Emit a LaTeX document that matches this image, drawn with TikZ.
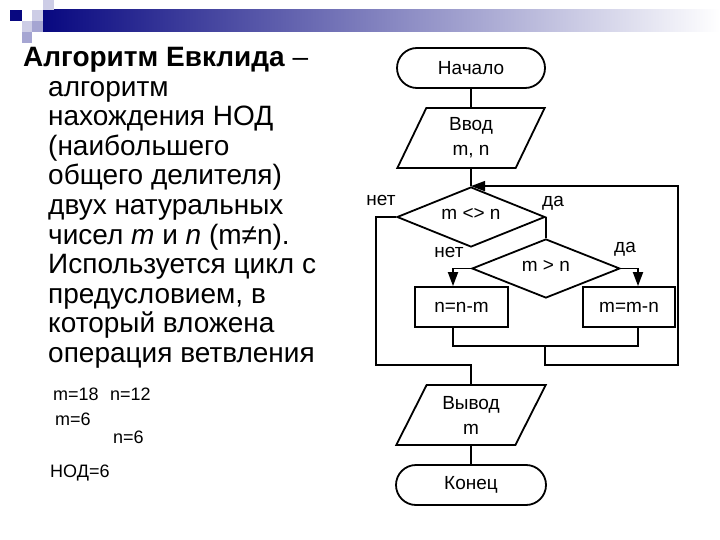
\documentclass[tikz,border=0pt]{standalone}
\usepackage{fontspec}
\setmainfont{Liberation Sans}
\usetikzlibrary{shapes.geometric,arrows.meta}

\definecolor{hdrblue}{RGB}{8,8,128}
\definecolor{lavlight}{RGB}{205,205,230}
\definecolor{lavmid}{RGB}{165,165,210}

\tikzset{
  line/.style={line width=1.8pt},
  arr/.style={-{Triangle[length=14pt,width=10pt]}},
  chart/.style={font=\fontsize{19}{25}\selectfont},
  term/.style={chart, draw, line width=1.8pt, rounded corners=20pt, minimum height=40pt},
  io/.style={chart, draw, line width=1.8pt, trapezium, trapezium stretches=true,
    minimum height=60pt, align=center, inner sep=0pt},
  cond/.style={chart, draw, line width=1.8pt, diamond, inner sep=0pt},
  proc/.style={chart, draw, line width=1.8pt, minimum width=93pt, minimum height=40pt},
  lbl/.style={chart},
  body/.style={font=\fontsize{28}{29.5}\selectfont, anchor=base west, inner sep=0pt},
  calc/.style={font=\fontsize{18}{20}\selectfont, anchor=base west, inner sep=0pt}
}

\begin{document}
\begin{tikzpicture}[x=1pt,y=-1pt]
    \useasboundingbox (0,0) rectangle (720,540);

    % header strip
    \shade[left color=hdrblue, right color=white] (43,10) rectangle (720,32);
    \fill[hdrblue] (10,10) rectangle (22,21);
    \fill[lavlight] (32,10) rectangle (43,21);
    \fill[lavlight] (43,0) rectangle (54,10);
    \fill[lavlight] (22,21) rectangle (32,32);
    \fill[lavmid] (32,21) rectangle (43,32);
    \fill[lavmid] (22,32) rectangle (32,43);

    % text on the left
    \node[body] (title) at (23,67) {\textbf{Алгоритм Евклида} –};
    \foreach \t [count=\i] in {{алгоритм}, {нахождения НОД}, {(наибольшего},
        {общего делителя)}, {двух натуральных},
        {чисел \textit{m} и \textit{n} (m≠n).},
        {Используется цикл с}, {предусловием, в}, {который вложена},
        {операция ветвления}}
      \node[body] (l\i) at (48,67+29.5*\i) {\t};

    \node[calc] (m1) at (53,400) {m=18};
    \node[calc] (n1) at (110,400) {n=12};
    \node[calc] (m2) at (55,425) {m=6};
    \node[calc] (n2) at (113,443) {n=6};
    \node[calc] (gcd) at (50,477) {НОД=6};

    % flowchart
    \node[term, minimum width=148pt] (start) at (471,68) {Начало};
    \node[io, minimum width=148pt, trapezium left angle=70.7,
      trapezium right angle=109.3] (input) at (471,138) {Ввод\\m, n};
    \node[cond, minimum width=148pt, minimum height=60pt] (cond1) at (471,217)
      {\raisebox{-3pt}[0pt][0pt]{m <> n}};
    \node[cond, minimum width=148pt, minimum height=59pt] (cond2)
      at (cond1.east |- 0,268.5) {\raisebox{-2.5pt}[0pt][0pt]{m > n}};
    \node[proc] (sub1) at (461.5,307) {n=n-m};
    \node[proc, minimum width=92pt] (sub2) at (629,307) {m=m-n};
    \node[io, minimum width=150pt, trapezium left angle=62.7,
      trapezium right angle=117.3] (output) at (471,415) {Вывод\\m};
    \node[term, minimum width=150pt] (stop) at (471,485) {Конец};

    \node[lbl] (no1) at (381,200) {нет};
    \node[lbl] (yes1) at (553,203) {да};
    \node[lbl] (no2) at (449,252) {нет};
    \node[lbl] (yes2) at (625,249) {да};

    \coordinate (exit) at (471,365);
    \coordinate (merge) at (545,346);
    \coordinate (back) at (678,365);

    \draw[line] (start) -- (input);
    \draw[line] (input) -- (cond1);
    \draw[line] (cond1.west) -- ++(-20,0) |- (exit) -- (output);
    \draw[line] (cond1.east) -- (cond2.north);
    \draw[line,arr] (cond2.west) -| ([xshift=-8.5pt]sub1.north);
    \draw[line,arr] (cond2.east) -| ([xshift=9pt]sub2.north);
    \draw[line] ([xshift=-8.5pt]sub1.south) |- (merge) -| ([xshift=9pt]sub2.south);
    \draw[line,arr] (merge) |- (back) |- (cond1.north);
    \draw[line] (output) -- (stop);
\end{tikzpicture}
\end{document}
